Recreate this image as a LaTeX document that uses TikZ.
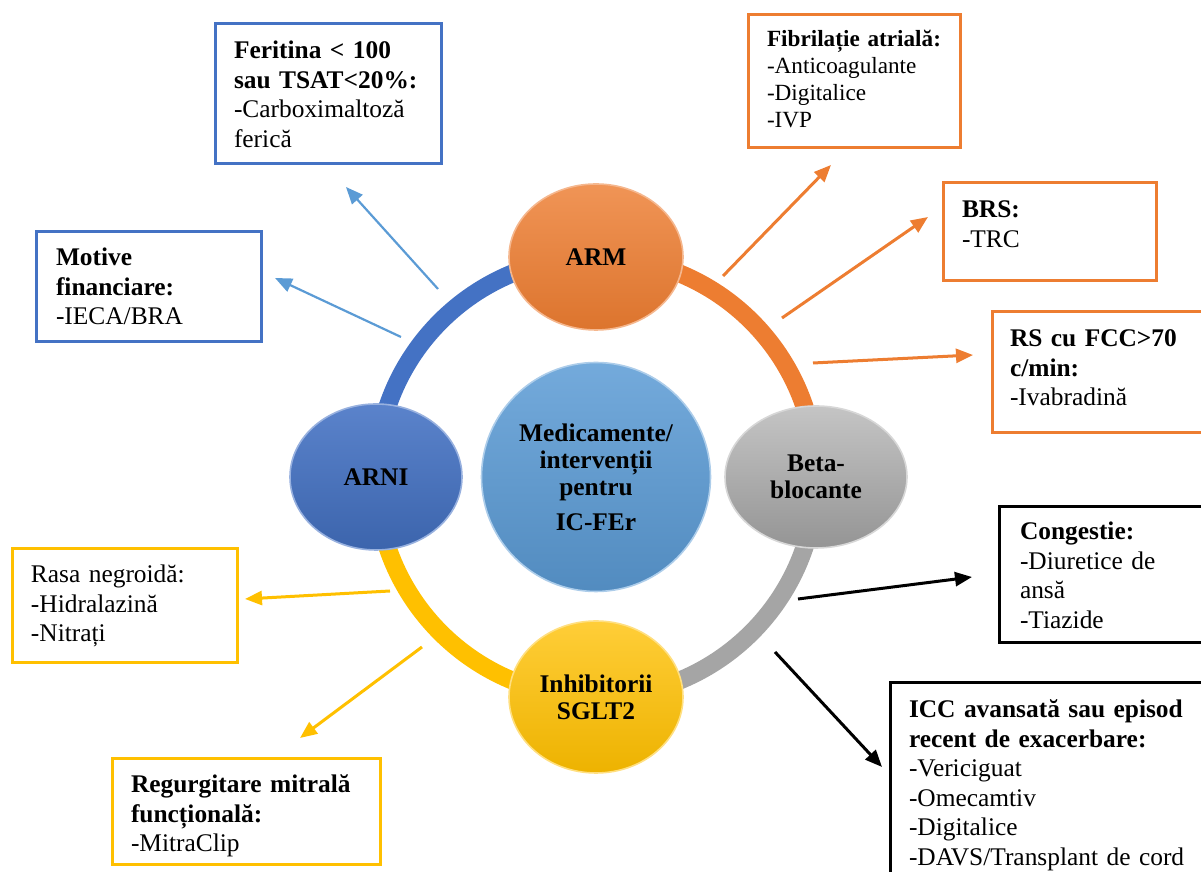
\documentclass[tikz,border=0pt]{standalone}
\usepackage{fontspec}
\setmainfont{Liberation Serif}
\usetikzlibrary{arrows.meta}
\usetikzlibrary{calc,shapes.geometric}

\definecolor{armorange}{HTML}{ED7D31}
\definecolor{arniblue}{HTML}{4472C4}
\definecolor{hubblue}{HTML}{5B9BD5}
\definecolor{betagray}{HTML}{A5A5A5}
\definecolor{sgltgold}{HTML}{FFC000}

\tikzset{
	pill/.style={ellipse, inner sep=0pt, minimum width=87pt, minimum height=73pt, align=center, line width=0.8pt, font=\fontsize{12.7}{13.5}\selectfont\bfseries},
	ring/.style={line width=9pt},
	infobox/.style={draw, line width=1.5pt, anchor=north west, outer sep=0pt, inner xsep=9.5pt, inner ysep=0pt, align=left, font=\fontsize{12.7}{14.75}\selectfont},
	pointer/.style={line width=1.5pt, -{Triangle[length=8.5pt,width=7pt]}},
}

\begin{document}
\begin{tikzpicture}[x=0.5pt,y=0.5pt]

		\useasboundingbox (0,0) rectangle (1201,872);
		\clip (0,0) rectangle (1201,872);

		\coordinate (O) at (596,395);

		% ring
		\draw [ring, armorange] ($(O)+(0:220)$) arc [start angle=0, end angle=90, radius=220];
		\draw [ring, arniblue] ($(O)+(90:220)$) arc [start angle=90, end angle=180, radius=220];
		\draw [ring, sgltgold] ($(O)+(180:220)$) arc [start angle=180, end angle=270, radius=220];
		\draw [ring, betagray] ($(O)+(270:220)$) arc [start angle=270, end angle=360, radius=220];

		% arrow ends
		\coordinate (fer0) at (438,583);  \coordinate (fer1) at (346,685);
		\coordinate (fin0) at (401,535);  \coordinate (fin1) at (275,594);
		\coordinate (fa0) at (723,596);   \coordinate (fa1) at (831,707);
		\coordinate (brs0) at (782,554);  \coordinate (brs1) at (928,655);
		\coordinate (rs0) at (813,509);   \coordinate (rs1) at (973,517);
		\coordinate (cong0) at (798,273); \coordinate (cong1) at (972,295);
		\coordinate (icc0) at (775,220);  \coordinate (icc1) at (882,105);
		\coordinate (rasa0) at (390,281); \coordinate (rasa1) at (245,273);
		\coordinate (reg0) at (422,225);  \coordinate (reg1) at (300,134);

		\draw [pointer, hubblue, line width=1.1pt] (fer0)--(fer1);
		\draw [pointer, hubblue, line width=1.1pt] (fin0)--(fin1);
		\draw [pointer, armorange] (fa0)--(fa1);
		\draw [pointer, armorange] (brs0)--(brs1);
		\draw [pointer, armorange] (rs0)--(rs1);
		\draw [pointer, black] (cong0)--(cong1);
		\draw [pointer, black] (icc0)--(icc1);
		\draw [pointer, sgltgold] (rasa0)--(rasa1);
		\draw [pointer, sgltgold] (reg0)--(reg1);

		% ellipses
		\node [pill, top color=armorange!82!white, bottom color=armorange!93!black, draw=armorange!55!white] (arm) at ($(O)+(90:220)$) {ARM};
		\node [pill, minimum width=86pt, top color=arniblue!88!white, bottom color=arniblue!88!black, draw=arniblue!55!white] (arni) at ($(O)+(180:220)$) {ARNI};
		\node [pill, minimum width=91pt, minimum height=71pt, top color=betagray!65!white, bottom color=betagray!90!black, draw=betagray!45!white] (beta) at ($(O)+(0:220)$) {Beta-\\blocante};
		\node [pill, minimum height=76pt, top color=sgltgold!78!white, bottom color=sgltgold!93!black, draw=sgltgold!50!white] (sglt) at ($(O)+(270:220)$) {Inhibitorii\\SGLT2};
		\node [circle, inner sep=0pt, minimum size=114.5pt, align=center, line width=0.8pt, font=\fontsize{12.7}{13.5}\selectfont\bfseries,
			top color=hubblue!85!white, bottom color=hubblue!90!black, draw=hubblue!50!white] (hub) at (O) {Medicamente/\\intervenții\\pentru\\[4pt]IC-FEr};

		% boxes
		\node [infobox, draw=arniblue, text width=94pt, text height=17.5pt, text depth=52.5pt] (fer) at (215,848)
			{\textbf{Feritina < 100}\\\textbf{sau TSAT<20\%:}\\-Carboximaltoză\\ferică};
		\node [infobox, draw=arniblue, inner xsep=10pt, text width=92.5pt, text height=17pt, text depth=38pt] (fin) at (36,640)
			{\textbf{Motive}\\\textbf{financiare:}\\-IECA/BRA};
		\node [infobox, draw=armorange, font=\fontsize{11.6}{13.35}\selectfont, text width=87pt, text height=16pt, text depth=50.5pt] (fa) at (748,857)
			{\textbf{Fibrilație atrială:}\\-Anticoagulante\\-Digitalice\\-IVP};
		\node [infobox, draw=armorange, text width=87.5pt, text height=17.5pt, text depth=31.5pt] (brs) at (943,689)
			{\textbf{BRS:}\\-TRC};
		\node [infobox, draw=armorange, inner xsep=9pt, text width=92pt, text height=17.5pt, text depth=43pt] (rs) at (992,560)
			{\textbf{RS cu FCC>70}\\\textbf{c/min:}\\-Ivabradină};
		\node [infobox, draw=black, inner xsep=10.5pt, text width=89pt, text height=16.5pt, text depth=51.5pt] (cong) at (999,365)
			{\textbf{Congestie:}\\-Diuretice de\\ansă\\-Tiazide};
		\node [infobox, draw=black, text width=141pt, text height=17.5pt, text depth=90pt] (icc) at (890,189)
			{\textbf{ICC avansată sau episod}\\\textbf{recent de exacerbare:}\\-Vericiguat\\-Omecamtiv\\-Digitalice\\-DAVS/Transplant de cord};
		\node [infobox, draw=sgltgold, text width=93.5pt, text height=17pt, text depth=40pt] (rasa) at (12,323)
			{Rasa negroidă:\\-Hidralazină\\-Nitrați};
		\node [infobox, draw=sgltgold, text width=115pt, text height=17pt, text depth=36pt] (reg) at (112,113)
			{\textbf{Regurgitare mitrală}\\\textbf{funcțională:}\\-MitraClip};

\end{tikzpicture}
\end{document}
